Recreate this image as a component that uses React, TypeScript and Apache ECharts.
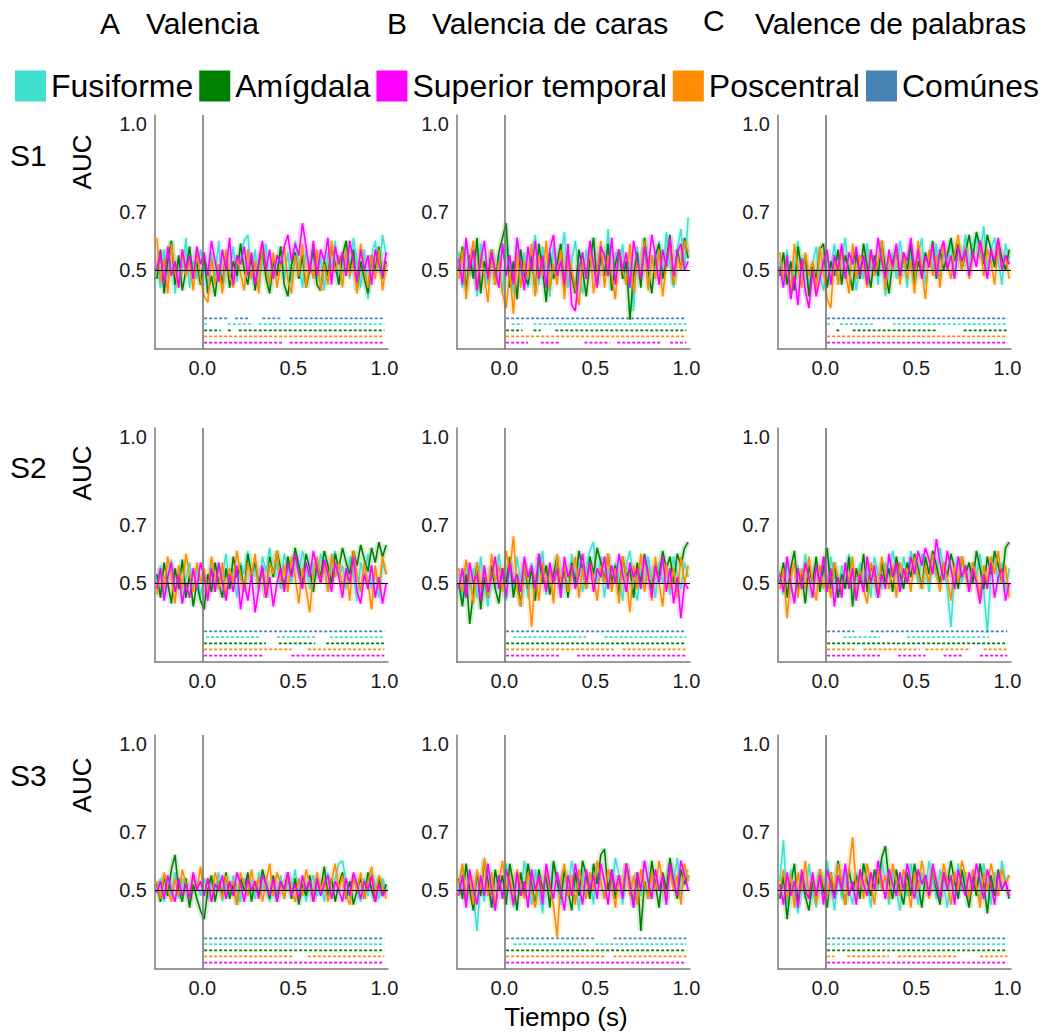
import React, { useEffect, useRef } from 'react';
import * as echarts from 'echarts';

const FONT = '"Liberation Sans", Arial, sans-serif';

// sample times (s)
const TIME = Array.from({ length: 64 }, (_, i) => Math.round((-0.25 + 0.02 * i) * 100) / 100);

const NAMES = ['Fusiforme', 'Amígdala', 'Superior temporal', 'Poscentral', 'Comúnes'];
const COLORS: Record<string, string> = {
  Fusiforme: '#40E0D0',
  'Amígdala': '#008000',
  'Superior temporal': '#FF00FF',
  Poscentral: '#FF8C00',
  'Comúnes': '#4682B4',
};
const COL_TITLES = ['Valencia', 'Valencia de caras', 'Valence de palabras'];
const COL_LETTERS = ['A', 'B', 'C'];
const ROW_LABELS = ['S1', 'S2', 'S3'];
const X_TICKS = [0, 0.5, 1.0];
const Y_TICKS = [0.5, 0.7, 1.0];
const SIG_NAMES = ['Comúnes', 'Fusiforme', 'Amígdala', 'Poscentral', 'Superior temporal'];
const SIG_LEVELS = [0.335, 0.315, 0.294, 0.273, 0.252];

// AUC values x100
const A1_fus = [52,44,57,47,60,42,54,49, 61,44,53,47,57,51,45,56,
47,60,43,53,49,58,46,55, 60,62,47,57,44,53,59,43,
55,49,58,47,56,45,60,52, 44,57,49,59,46,55,43,56,
51,60,45,50,58,47,61,53, 44,57,40,55,60,49,62,55];
const A1_amy = [47,57,42,53,60,45,55,43, 50,58,47,53,45,55,42,48,
41,52,45,56,44,53,48,59, 50,45,55,43,52,57,47,42,
53,48,58,45,41,52,56,47, 55,44,50,57,45,43,53,48,
58,52,45,55,60,49,57,43, 53,47,42,55,50,58,47,53];
const A1_sup = [50,56,45,58,48,53,44,57, 50,55,47,58,52,56,48,60,
53,46,57,50,61,45,55,52, 58,48,56,45,53,60,50,57,
47,55,52,58,62,53,59,55, 66,58,49,60,48,57,53,61,
45,58,52,56,48,60,53,46, 57,50,55,45,57,52,48,56];
const A1_pos = [61,46,54,42,59,49,44,57, 48,53,43,56,47,41,39,54,
45,52,42,57,48,44,55,49, 43,57,47,53,42,59,50,45,
56,44,52,58,47,42,55,48, 59,44,53,47,57,43,52,45,
60,49,55,44,57,48,53,42, 59,50,44,55,47,57,43,52];

const B1_fus = [56,44,60,48,53,41,59,50, 45,57,47,55,42,58,52,42,
61,48,56,44,53,62,45,58, 50,41,59,47,55,63,44,53,
60,48,42,57,51,61,45,55, 48,64,43,56,50,59,45,53,
36,58,48,61,44,55,50,60, 47,63,52,44,57,64,50,68];
const B1_amy = [50,58,43,55,47,61,42,53, 48,57,45,56,61,66,44,53,
40,57,48,45,55,42,59,50, 39,56,47,52,59,44,55,48,
42,57,50,41,53,61,45,55, 48,59,43,52,57,47,53,33,
48,56,44,61,50,42,55,59, 47,53,62,45,57,50,61,54];
const B1_sup = [54,45,61,50,57,43,53,60, 47,56,50,44,59,48,55,45,
61,52,43,58,50,60,47,55, 44,57,62,48,53,45,59,38,
36,50,56,47,60,52,44,58, 55,48,61,45,57,50,56,44,
60,53,47,58,50,62,55,45, 57,51,61,48,56,59,50,53];
const B1_pos = [47,57,40,53,60,43,55,48, 39,57,45,53,42,37,50,35,
56,44,53,47,59,41,55,48, 60,43,52,45,57,40,55,50,
44,38,53,47,58,42,50,60, 44,55,48,40,57,50,45,59,
42,53,48,60,43,55,47,57, 41,52,59,45,55,50,60,56];

const C1_fus = [53,45,57,42,50,60,47,55, 44,52,58,48,43,55,50,59,
45,53,61,48,56,43,52,47, 59,50,55,45,57,41,50,56,
47,60,53,44,57,48,55,61, 45,53,50,59,47,56,51,60,
48,57,53,62,50,59,61,54, 65,50,57,61,53,45,59,54];
const C1_amy = [48,56,45,53,43,58,50,55, 41,52,47,57,59,44,53,48,
57,45,55,50,43,56,47,59, 51,44,55,48,60,50,42,53,
57,47,55,50,59,45,53,48, 56,51,60,47,57,50,55,61,
53,59,50,56,62,54,63,58, 52,62,57,51,60,54,50,57];
const C1_sup = [51,44,55,40,48,38,54,43, 37,50,41,47,53,57,45,55,
50,59,47,56,52,58,48,55, 45,57,50,61,53,47,57,51,
59,48,56,53,61,50,57,47, 55,51,59,48,56,60,50,55,
47,58,53,57,48,56,51,60, 54,47,57,53,61,50,55,52];
const C1_pos = [56,47,53,42,59,50,44,56, 48,53,43,58,50,40,37,55,
45,57,50,42,59,47,55,52, 44,57,48,53,60,43,55,50,
58,45,56,47,53,42,60,50, 40,57,48,55,44,59,52,47,
56,62,50,58,47,55,52,60, 48,57,53,45,59,50,55,47];

const A2_fus = [50,56,45,53,58,47,55,43, 52,57,48,55,45,53,50,58,
47,56,52,60,48,55,45,57, 53,61,50,56,47,59,54,62,
52,57,48,60,55,50,58,53, 61,56,48,57,52,60,55,47,
57,61,52,56,48,59,53,44, 57,52,60,48,55,45,57,53];
const A2_amy = [53,45,57,50,43,55,48,58, 45,53,42,50,44,41,53,47,
57,50,45,55,48,59,52,56, 47,60,53,57,50,55,45,59,
52,61,55,48,59,53,62,56, 50,60,55,47,57,52,61,56,
50,60,55,62,57,53,61,56, 63,58,54,62,57,64,59,63];
const A2_sup = [48,55,44,52,57,47,53,43, 50,45,55,48,57,52,44,55,
47,57,50,44,53,47,56,41, 50,44,53,40,48,56,45,52,
42,50,55,47,57,52,60,53, 48,57,52,61,55,50,58,53,
47,57,52,45,55,50,59,47, 43,53,48,56,45,52,43,50];
const A2_pos = [46,55,48,59,52,43,56,48, 60,53,47,57,50,55,45,59,
52,48,57,45,55,50,61,53, 47,57,52,60,48,55,45,57,
53,61,50,56,47,59,52,43, 55,48,40,53,59,50,56,47,
60,52,57,48,55,44,61,53, 47,57,50,41,56,48,59,53];

const B2_fus = [53,44,57,48,55,45,59,50, 42,55,48,60,52,44,56,47,
59,50,55,45,57,48,53,61, 46,56,50,59,45,55,48,60,
52,57,47,55,61,64,50,59, 45,55,48,57,52,44,56,61,
50,44,55,48,59,52,45,57, 50,55,46,59,53,48,57,52];
const B2_amy = [50,42,53,36,47,57,41,52, 45,56,48,43,55,50,59,45,
53,42,57,48,55,44,60,50, 56,46,53,59,48,55,45,57,
50,61,55,48,59,53,62,57, 51,60,50,56,46,59,52,55,
45,57,50,60,53,48,57,52, 61,55,59,50,60,56,62,64];
const B2_sup = [48,55,45,57,50,53,44,56, 47,52,59,48,55,45,57,50,
53,47,59,52,56,48,60,53, 47,57,50,55,45,59,52,56,
48,53,60,50,57,47,55,52, 59,48,56,50,60,53,47,57,
52,55,48,59,53,45,56,50, 59,47,55,43,52,38,50,48];
const B2_pos = [55,47,58,52,43,57,48,55, 45,60,50,56,47,61,54,66,
48,42,57,50,35,53,44,57, 48,55,43,60,50,56,47,53,
59,45,55,48,57,52,44,56, 50,60,47,55,43,59,52,40,
56,48,60,47,55,44,59,50, 42,57,48,55,45,59,50,56];

const C2_fus = [54,46,57,50,44,56,48,60, 52,45,57,50,55,47,59,52,
45,56,50,60,53,47,57,50, 55,45,59,53,48,57,52,61,
55,48,59,53,61,56,50,60, 55,47,57,52,62,55,48,35,
53,59,50,56,47,57,52,60, 48,33,53,59,50,57,47,55];
const C2_amy = [50,57,45,55,61,48,53,43, 56,50,59,47,55,62,48,57,
45,53,48,59,42,55,50,60, 47,56,52,45,57,50,55,47,
59,53,48,57,52,60,55,48, 59,53,61,56,50,57,52,60,
55,48,59,53,57,50,61,55, 48,59,53,61,56,50,62,64];
const C2_sup = [53,47,59,50,43,55,48,57, 52,45,56,50,59,47,55,42,
52,45,57,48,55,44,53,47, 59,50,56,45,53,48,60,52,
57,47,55,50,59,53,61,56, 62,58,53,65,57,51,61,55,
48,59,52,56,47,55,50,43, 53,48,57,45,52,55,44,50];
const C2_pos = [48,55,38,52,57,45,55,48, 59,50,44,56,48,53,45,57,
52,47,56,50,59,45,55,48, 43,57,52,47,59,53,48,56,
45,57,52,55,47,59,53,48, 56,50,60,53,47,57,52,44,
56,50,59,53,47,57,52,45, 56,50,59,53,61,50,56,45];

const A3_fus = [50,54,46,53,48,56,47,54, 50,46,55,52,48,54,47,53,
50,56,46,52,48,55,50,46, 54,48,53,47,56,50,54,46,
52,48,55,47,53,50,57,48, 54,46,52,55,48,53,46,56,
50,54,59,60,53,47,55,50, 46,54,48,56,52,47,54,50];
const A3_amy = [52,46,55,48,57,62,50,46, 54,44,52,47,43,40,50,55,
46,53,48,56,47,52,45,54, 50,56,46,53,48,57,52,47,
55,46,53,50,56,47,54,45, 52,48,55,46,53,50,58,48,
54,46,52,56,47,53,45,50, 54,47,56,50,46,54,48,52];
const A3_sup = [49,53,47,55,50,46,54,48, 52,47,56,50,53,48,54,46,
52,50,55,47,53,48,56,52, 46,54,50,53,47,55,52,48,
54,46,53,50,56,48,52,47, 55,50,53,46,54,48,52,55,
47,53,50,46,54,48,56,52, 47,53,50,55,46,52,48,50];
const A3_pos = [53,47,56,50,46,54,48,57, 52,47,55,50,58,48,54,46,
56,52,47,55,50,53,45,56, 52,48,57,50,54,46,53,59,
48,56,52,47,55,50,46,54, 48,57,52,47,56,50,54,46,
53,59,50,55,48,45,54,50, 56,47,53,58,48,55,52,47];

const B3_fus = [50,57,44,55,48,36,53,46, 57,50,43,55,47,59,52,44,
56,48,60,53,45,57,50,42, 55,48,59,52,45,56,50,60,
53,43,57,48,55,45,59,52, 47,56,50,61,55,45,57,52,
44,56,48,60,53,47,57,50, 55,45,59,52,61,48,55,57];
const B3_amy = [54,47,59,50,43,56,48,60, 53,44,57,50,55,45,59,52,
43,56,48,59,52,45,57,50, 55,44,60,53,47,57,50,43,
56,48,60,55,47,59,52,62, 64,50,57,47,55,48,59,52,
45,56,36,53,47,60,52,44, 56,50,61,53,47,57,52,55];
const B3_sup = [48,55,44,57,50,45,55,48, 59,50,43,55,47,57,52,45,
56,48,53,44,57,50,55,45, 59,52,47,56,50,43,55,48,
59,52,45,57,50,55,47,59, 53,45,57,50,55,47,59,52,
44,56,50,60,53,47,57,50, 55,45,59,53,48,60,55,50];
const B3_pos = [52,59,47,55,45,57,50,61, 48,56,44,53,60,50,55,45,
57,52,47,56,50,44,55,48, 57,50,45,34,53,59,48,55,
45,57,52,47,56,50,60,53, 47,57,52,44,55,50,59,48,
55,45,57,52,47,56,50,60, 53,47,57,50,55,45,59,53];

const C3_fus = [53,67,45,57,48,42,55,47, 59,50,44,56,48,60,52,43,
55,47,57,50,45,56,48,59, 53,44,56,50,60,53,45,57,
50,43,55,48,59,52,45,56, 50,60,53,47,57,52,44,55,
48,59,50,56,45,57,52,47, 59,53,45,56,50,60,53,55];
const C3_amy = [47,55,40,52,59,45,55,48, 43,53,47,57,50,44,56,48,
60,52,45,57,50,55,47,59, 53,48,57,52,61,65,53,47,
57,50,45,56,48,59,52,44, 55,48,57,50,45,56,52,60,
53,47,57,50,44,55,48,59, 52,42,55,48,57,50,53,47];
const C3_sup = [52,45,56,48,53,44,57,50, 47,56,48,55,45,57,52,47,
55,50,59,48,53,45,57,52, 48,56,50,60,53,47,57,52,
48,56,50,59,53,47,57,52, 55,48,59,53,47,56,50,55,
45,57,52,48,56,50,59,53, 47,57,52,45,56,50,53,48];
const C3_pos = [50,57,47,55,44,56,50,60, 48,55,45,57,52,47,56,50,
59,53,45,57,68,50,56,47, 59,52,45,57,50,55,47,59,
53,48,57,52,44,56,50,60, 53,47,57,52,48,59,53,45,
56,50,60,55,47,57,52,44, 56,50,59,53,48,57,52,55];

// significant intervals [start, end] (s), rows in SIG_NAMES order
const A1_sig = [[[0.01,0.14],[0.18,0.26],[0.33,0.43],[0.48,1.0]],[[0.01,0.03],[0.14,0.28],[0.31,1.0]],[[0.01,0.1],[0.14,0.16],[0.2,1.0]],[[0.01,1.0]],[[0.01,0.45],[0.48,1.0]]];
const B1_sig = [[[0.01,1.0]],[[0.04,0.1],[0.16,1.0]],[[0.01,0.1],[0.16,0.2],[0.28,1.0]],[[0.01,1.0]],[[0.01,0.13],[0.2,0.3],[0.44,0.58],[0.62,0.86],[0.91,1.0]]];
const C1_sig = [[[0.01,1.0]],[[0.01,0.04],[0.08,0.27],[0.37,1.0]],[[0.06,0.08],[0.15,0.61],[0.76,1.0]],[[0.01,1.0]],[[0.01,1.0]]];
const A2_sig = [[[0.01,1.0]],[[0.02,0.31],[0.41,0.63],[0.7,1.0]],[[0.01,0.35],[0.42,0.62],[0.68,1.0]],[[0.01,0.49],[0.58,1.0]],[[0.01,0.33],[0.49,1.0]]];
const B2_sig = [[[0.01,1.0]],[[0.05,0.45],[0.55,1.0]],[[0.01,1.0]],[[0.01,0.6],[0.65,1.0]],[[0.01,0.3],[0.4,1.0]]];
const C2_sig = [[[0.01,0.16],[0.25,1.0]],[[0.1,0.3],[0.45,0.9]],[[0.01,1.0]],[[0.01,0.16],[0.21,0.52],[0.55,0.8],[0.87,1.0]],[[0.01,0.3],[0.4,0.55],[0.65,0.75],[0.85,1.0]]];
const A3_sig = [[[0.01,1.0]],[[0.01,1.0]],[[0.01,1.0]],[[0.01,0.5],[0.58,1.0]],[[0.01,1.0]]];
const B3_sig = [[[0.01,0.5],[0.6,1.0]],[[0.05,0.45],[0.5,1.0]],[[0.01,1.0]],[[0.01,0.55],[0.6,1.0]],[[0.01,1.0]]];
const C3_sig = [[[0.01,1.0]],[[0.01,1.0]],[[0.01,1.0]],[[0.01,0.05],[0.12,0.35],[0.4,0.72],[0.85,1.0]],[[0.01,1.0]]];

const PANELS = [
  { c: 0, r: 0, fus: A1_fus, amy: A1_amy, sup: A1_sup, pos: A1_pos, sig: A1_sig },
  { c: 1, r: 0, fus: B1_fus, amy: B1_amy, sup: B1_sup, pos: B1_pos, sig: B1_sig },
  { c: 2, r: 0, fus: C1_fus, amy: C1_amy, sup: C1_sup, pos: C1_pos, sig: C1_sig },
  { c: 0, r: 1, fus: A2_fus, amy: A2_amy, sup: A2_sup, pos: A2_pos, sig: A2_sig },
  { c: 1, r: 1, fus: B2_fus, amy: B2_amy, sup: B2_sup, pos: B2_pos, sig: B2_sig },
  { c: 2, r: 1, fus: C2_fus, amy: C2_amy, sup: C2_sup, pos: C2_pos, sig: C2_sig },
  { c: 0, r: 2, fus: A3_fus, amy: A3_amy, sup: A3_sup, pos: A3_pos, sig: A3_sig },
  { c: 1, r: 2, fus: B3_fus, amy: B3_amy, sup: B3_sup, pos: B3_pos, sig: B3_sig },
  { c: 2, r: 2, fus: C3_fus, amy: C3_amy, sup: C3_sup, pos: C3_pos, sig: C3_sig },
];

const COL_LEFT = [155, 457, 778];
const ROW_TOP = [115, 428, 735];
const GRID_W = 233;
const GRID_H = 234;

function toPoints(vals: number[]) {
  return vals.slice(0, TIME.length).map((v, i) => [TIME[i], v / 100]);
}

function buildOption() {
  const grid: any[] = [];
  const xAxis: any[] = [];
  const yAxis: any[] = [];
  const series: any[] = [];
  const axisLine = { show: true, onZero: false, lineStyle: { color: '#7a7a7a', width: 1.5 } };
  const label = { fontSize: 20, color: '#1a1a1a', fontFamily: FONT };

  PANELS.forEach((p, k) => {
    grid.push({ left: COL_LEFT[p.c], top: ROW_TOP[p.r], width: GRID_W, height: GRID_H });
    xAxis.push({
      type: 'value', gridIndex: k, min: -0.26, max: 1.02,
      axisLine, axisTick: { show: false }, splitLine: { show: false },
      axisLabel: { ...label, margin: 9, customValues: X_TICKS, formatter: (v: number) => Number(v).toFixed(1) },
    });
    yAxis.push({
      type: 'value', gridIndex: k, min: 0.23, max: 1.03,
      axisLine, axisTick: { show: false }, splitLine: { show: false },
      axisLabel: { ...label, margin: 8, customValues: Y_TICKS, formatter: (v: number) => Number(v).toFixed(1) },
    });
    const traces: [string, number[]][] = [
      ['Fusiforme', p.fus], ['Amígdala', p.amy], ['Poscentral', p.pos], ['Superior temporal', p.sup],
    ];
    traces.forEach(([name, vals]) => {
      series.push({
        type: 'line', name: 'band', xAxisIndex: k, yAxisIndex: k, data: toPoints(vals),
        showSymbol: false, silent: true, z: 1,
        lineStyle: { color: COLORS[name], width: 6, opacity: 0.16 },
        itemStyle: { color: COLORS[name] },
      });
    });
    traces.forEach(([name, vals], j) => {
      const s: any = {
        type: 'line', name, xAxisIndex: k, yAxisIndex: k, data: toPoints(vals),
        showSymbol: false, silent: true, z: 2,
        lineStyle: { color: COLORS[name], width: 1.6 },
        itemStyle: { color: COLORS[name] },
      };
      if (j === traces.length - 1) {
        s.markLine = {
          silent: true, symbol: 'none', label: { show: false }, z: 5,
          data: [
            { xAxis: 0, lineStyle: { color: '#6e6e6e', width: 1.5, type: 'solid' } },
            { yAxis: 0.5, lineStyle: { color: '#000', width: 1, type: 'solid' } },
          ],
        };
      }
      series.push(s);
    });
    p.sig.forEach((intervals: number[][], j: number) => {
      const lvl = SIG_LEVELS[j];
      const data: any[] = [];
      intervals.forEach(([a, b]) => {
        data.push([a, lvl], [b, lvl], [b, '-']);
      });
      const name = SIG_NAMES[j];
      series.push({
        type: 'line', name, xAxisIndex: k, yAxisIndex: k, data, connectNulls: false,
        showSymbol: false, silent: true, z: 3,
        lineStyle: { color: COLORS[name], width: 1.8, type: [3, 2] },
        itemStyle: { color: COLORS[name] },
      });
    });
  });

  const graphic: any[] = [];
  const titleX = [[100, 146], [387, 432], [703, 755]];
  const titleY = [23, 23, 20];
  COL_TITLES.forEach((t, i) => {
    graphic.push({ type: 'text', x: titleX[i][0], y: titleY[i], style: { text: COL_LETTERS[i], font: `30px ${FONT}`, fill: '#000', textVerticalAlign: 'middle' } });
    graphic.push({ type: 'text', x: titleX[i][1], y: 23, style: { text: t, font: `30px ${FONT}`, fill: '#000', textVerticalAlign: 'middle' } });
  });
  const rowY = [155, 467, 775];
  const aucY = [162, 473, 785];
  ROW_LABELS.forEach((t, i) => {
    graphic.push({ type: 'text', x: 10, y: rowY[i], style: { text: t, font: `30px ${FONT}`, fill: '#000', textVerticalAlign: 'middle' } });
    graphic.push({ type: 'text', x: 82, y: aucY[i], rotation: Math.PI / 2, style: { text: 'AUC', font: `26px ${FONT}`, fill: '#000', textAlign: 'center', textVerticalAlign: 'middle' } });
  });
  graphic.push({ type: 'text', x: 566, y: 1017, style: { text: 'Tiempo (s)', font: `26px ${FONT}`, fill: '#000', textAlign: 'center', textVerticalAlign: 'middle' } });

  return {
    animation: false,
    backgroundColor: '#fff',
    legend: {
      data: NAMES.map((n) => ({ name: n, icon: 'rect' })),
      left: 10, top: 65, itemWidth: 31, itemHeight: 31, itemGap: 6,
      selectedMode: false,
      itemStyle: { borderWidth: 0 },
      textStyle: { fontSize: 32, fontFamily: FONT, color: '#000' },
    },
    grid, xAxis, yAxis, series, graphic,
  };
}

export default function App() {
  const ref = useRef<HTMLDivElement>(null);
  useEffect(() => {
    const chart = echarts.init(ref.current!, null, { renderer: 'svg' });
    chart.setOption(buildOption() as any);
    return () => chart.dispose();
  }, []);
  return (
    <div
      ref={ref}
      style={{ position: 'fixed', left: 0, top: 0, width: 1046, height: 1035, background: '#fff' }}
    />
  );
}
